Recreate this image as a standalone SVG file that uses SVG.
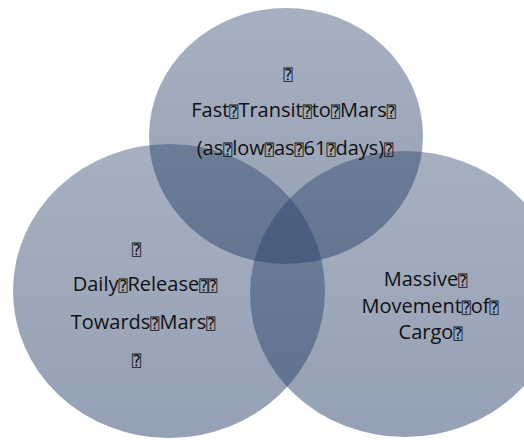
<svg xmlns="http://www.w3.org/2000/svg" width="524" height="440" viewBox="0 0 524 440">
  <defs>
    <linearGradient id="fillGrad" x1="0" y1="0" x2="0" y2="1">
      <stop offset="0" stop-color="rgb(38,62,102)" stop-opacity="0.41"/>
      <stop offset="1" stop-color="rgb(38,62,102)" stop-opacity="0.49"/>
    </linearGradient>
    <style>
      .c { fill: url(#fillGrad); stroke: none; }
      .t { font-family: "Open Sans", "Liberation Sans", sans-serif; font-size: 20px; fill: #111; text-anchor: middle; }
      .m { font-family: "DejaVu Sans Mono", "DejaVu Sans", monospace; font-size: 15px; }
    </style>
  </defs>
  <rect width="524" height="440" fill="#fff"/>
  <g id="connectors"/>
  <g id="node-daily-release">
    <ellipse class="c" cx="169" cy="291" rx="156" ry="147"/>
    <text class="t" x="136.5" y="255"><tspan class="m">⍰</tspan></text>
    <text class="t" x="145" y="291">Daily<tspan class="m">⍰</tspan>Release<tspan class="m">⍰⍰</tspan></text>
    <text class="t" x="143" y="329">Towards<tspan class="m">⍰</tspan>Mars<tspan class="m">⍰</tspan></text>
    <text class="t" x="136.5" y="366"><tspan class="m">⍰</tspan></text>
  </g>
  <g id="node-massive-movement">
    <ellipse class="c" cx="405" cy="294" rx="155" ry="143"/>
    <text class="t" x="425.5" y="286">Massive<tspan class="m">⍰</tspan></text>
    <text class="t" x="430" y="313">Movement<tspan class="m">⍰</tspan>of<tspan class="m">⍰</tspan></text>
    <text class="t" x="430.5" y="339">Cargo<tspan class="m">⍰</tspan></text>
  </g>
  <g id="node-fast-transit">
    <ellipse class="c" cx="286" cy="136" rx="137" ry="128"/>
    <text class="t" x="288" y="80"><tspan class="m">⍰</tspan></text>
    <text class="t" x="293.5" y="117">Fast<tspan class="m">⍰</tspan>Transit<tspan class="m">⍰</tspan>to<tspan class="m">⍰</tspan>Mars<tspan class="m">⍰</tspan></text>
    <text class="t" x="295" y="155">(as<tspan class="m">⍰</tspan>low<tspan class="m">⍰</tspan>as<tspan class="m">⍰</tspan>61<tspan class="m">⍰</tspan>days)<tspan class="m">⍰</tspan></text>
  </g>
</svg>
